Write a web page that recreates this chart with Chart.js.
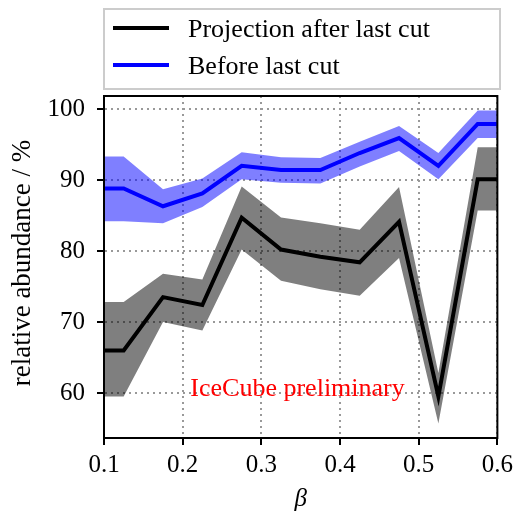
<!DOCTYPE html>
<html>
<head>
<meta charset="utf-8">
<script src="https://cdn.jsdelivr.net/npm/chart.js@4.4.0/dist/chart.umd.min.js"></script>
<style>
  html, body { margin: 0; padding: 0; background: #fff; }
</style>
</head>
<body>
<canvas id="grafica" width="518" height="512"></canvas>
<script>
// Datos
const betas = [0.1, 0.125, 0.175, 0.225, 0.275, 0.325, 0.375, 0.425, 0.475, 0.525, 0.575, 0.6];
const despuesCorte = [66.0, 66.0, 73.5, 72.4, 84.7, 80.2, 79.2, 78.4, 84.1, 59.5, 90.1, 90.1];
const despuesAlto = [72.8, 72.8, 76.8, 76.0, 89.1, 84.7, 83.9, 83.0, 89.0, 62.8, 94.6, 94.6];
const despuesBajo = [59.5, 59.5, 70.0, 68.8, 80.2, 75.8, 74.6, 73.7, 79.0, 55.7, 85.7, 85.7];
const antesCorte = [88.8, 88.8, 86.3, 88.1, 92.0, 91.4, 91.4, 93.8, 95.9, 92.0, 97.9, 97.9];
const antesAlto = [93.3, 93.3, 88.7, 90.2, 93.9, 93.2, 93.1, 95.4, 97.6, 93.8, 99.8, 99.8];
const antesBajo = [84.2, 84.2, 83.9, 86.2, 90.1, 89.6, 89.5, 91.9, 94.1, 90.1, 95.9, 95.9];

const nombresSeries = ['Projection after last cut', 'Before last cut'];
const coloresSeries = ['#000000', '#0000ff'];
const ticksX = [0.1, 0.2, 0.3, 0.4, 0.5, 0.6];
const ticksY = [60, 70, 80, 90, 100];
const tituloX = 'β';
const tituloY = 'relative abundance / %';
const marcaAgua = 'IceCube preliminary';

const fuente = '"Liberation Serif", "DejaVu Serif", serif';

function pares(valores) {
  return valores.map((v, i) => ({ x: betas[i], y: v }));
}

// Marco, leyenda, títulos y marca de agua
const extras = {
  id: 'extras',
  afterDatasetsDraw(chart) {
    const { ctx, chartArea: a, scales } = chart;
    ctx.save();

    // Marca de agua
    ctx.fillStyle = '#ff0000';
    ctx.font = '26px ' + fuente;
    ctx.textAlign = 'center';
    ctx.textBaseline = 'alphabetic';
    ctx.fillText(marcaAgua, scales.x.getPixelForValue(0.346), scales.y.getPixelForValue(59.6));

    // Marco del área
    ctx.strokeStyle = '#000';
    ctx.lineWidth = 2;
    ctx.strokeRect(a.left, a.top, a.right - a.left, a.bottom - a.top);

    // Títulos de ejes
    ctx.fillStyle = '#000';
    ctx.font = 'italic 25px ' + fuente;
    ctx.textBaseline = 'middle';
    ctx.fillText(tituloX, (a.left + a.right) / 2, 499);

    ctx.font = '27px ' + fuente;
    ctx.translate(23, (a.top + a.bottom) / 2 - 4);
    ctx.rotate(-Math.PI / 2);
    ctx.fillText(tituloY, 0, 0);
    ctx.restore();

    // Leyenda
    ctx.save();
    ctx.strokeStyle = '#cccccc';
    ctx.lineWidth = 2;
    ctx.strokeRect(104, 9, 396, 80);
    nombresSeries.forEach((nombre, i) => {
      const y = 28 + i * 37;
      ctx.strokeStyle = coloresSeries[i];
      ctx.lineWidth = 4;
      ctx.beginPath();
      ctx.moveTo(113, y);
      ctx.lineTo(169, y);
      ctx.stroke();
      ctx.fillStyle = '#000';
      ctx.font = '26px ' + fuente;
      ctx.textAlign = 'left';
      ctx.textBaseline = 'alphabetic';
      ctx.fillText(nombre, 188, y + 9);
    });
    ctx.restore();
  }
};

const banda = (valores, relleno, color) => ({
  data: pares(valores),
  borderWidth: 0,
  pointRadius: 0,
  fill: relleno,
  backgroundColor: color
});

new Chart(document.getElementById('grafica'), {
  type: 'line',
  data: {
    datasets: [
      banda(despuesBajo, false, 'transparent'),
      banda(despuesAlto, '-1', 'rgba(0, 0, 0, 0.5)'),
      {
        label: nombresSeries[0],
        data: pares(despuesCorte),
        borderColor: coloresSeries[0],
        borderWidth: 4,
        pointRadius: 0,
        fill: false
      },
      banda(antesBajo, false, 'transparent'),
      banda(antesAlto, '-1', 'rgba(0, 0, 255, 0.5)'),
      {
        label: nombresSeries[1],
        data: pares(antesCorte),
        borderColor: coloresSeries[1],
        borderWidth: 4,
        pointRadius: 0,
        fill: false
      }
    ]
  },
  options: {
    responsive: false,
    animation: false,
    layout: { padding: { top: 96, right: 18, left: 0, bottom: 0 } },
    elements: { line: { tension: 0, borderJoinStyle: 'miter' } },
    plugins: {
      legend: { display: false },
      tooltip: { enabled: false },
      filler: { drawTime: 'beforeDatasetsDraw' }
    },
    scales: {
      x: {
        type: 'linear',
        min: 0.1,
        max: 0.6,
        afterFit: (s) => { s.height = 74; },
        afterBuildTicks: (s) => { s.ticks = ticksX.map(v => ({ value: v })); },
        ticks: {
          color: '#000',
          font: { family: fuente, size: 25 },
          padding: 5,
          maxRotation: 0,
          callback: (v) => Number(v).toFixed(1)
        },
        grid: { color: '#999999', lineWidth: 2, tickColor: '#000', tickLength: 7, tickWidth: 2 },
        border: { display: true, color: '#000', width: 2, dash: [2, 4] }
      },
      y: {
        min: 53.66,
        max: 101.83,
        afterFit: (s) => { s.width = 104; },
        afterBuildTicks: (s) => { s.ticks = ticksY.map(v => ({ value: v })); },
        ticks: {
          color: '#000',
          font: { family: fuente, size: 25 },
          padding: 12,
          callback: (v) => String(v)
        },
        grid: { color: '#999999', lineWidth: 2, tickColor: '#000', tickLength: 7, tickWidth: 2 },
        border: { display: true, color: '#000', width: 2, dash: [2, 4] }
      }
    }
  },
  plugins: [extras]
});
</script>
</body>
</html>
